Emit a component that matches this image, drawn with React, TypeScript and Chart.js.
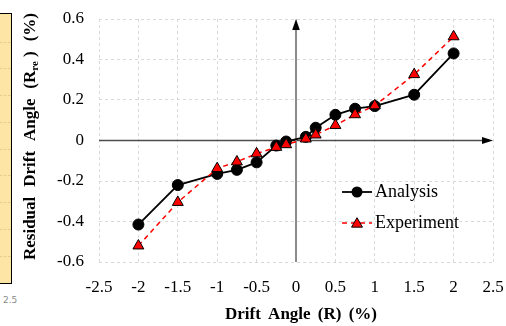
import React, { useEffect, useRef } from "react";
import { Chart, registerables } from "chart.js";

Chart.register(...registerables);

// ---- data ----
const driftAngles = [-2, -1.5, -1, -0.75, -0.5, -0.25, -0.125, 0.125, 0.25, 0.5, 0.75, 1, 1.5, 2];
const analysisValues = [-0.415, -0.22, -0.165, -0.145, -0.108, -0.025, -0.005, 0.018, 0.063, 0.127, 0.157, 0.17, 0.226, 0.43];
const experimentValues = [-0.52, -0.305, -0.138, -0.105, -0.065, -0.033, -0.02, 0.008, 0.028, 0.075, 0.128, 0.172, 0.326, 0.513];

const xTickValues = [-2.5, -2, -1.5, -1, -0.5, 0, 0.5, 1, 1.5, 2, 2.5];
const xTickLabels = ["-2.5", "-2", "-1.5", "-1", "-0.5", "0", "0.5", "1", "1.5", "2", "2.5"];
const yTickValues = [-0.6, -0.4, -0.2, 0, 0.2, 0.4, 0.6];
const yTickLabels = ["-0.6", "-0.4", "-0.2", "0", "0.2", "0.4", "0.6"];

const seriesNames = ["Analysis", "Experiment"];
const xTitle = ["Drift", "Angle", "(R)", "(%)"];

const SERIF = '"Liberation Serif", "Times New Roman", serif';

type Run = { text: string; sub?: boolean };

function drawWords(ctx: CanvasRenderingContext2D, words: Run[][], startX: number, y: number, total: number) {
  const main = `bold 17px ${SERIF}`;
  const subF = `bold 11px ${SERIF}`;
  const widths = words.map((w) =>
    w.reduce((acc, r) => {
      ctx.font = r.sub ? subF : main;
      return acc + ctx.measureText(r.text).width;
    }, 0)
  );
  const natural = widths.reduce((a, b) => a + b, 0);
  const gap = words.length > 1 ? (total - natural) / (words.length - 1) : 0;
  let x = startX;
  ctx.textBaseline = "middle";
  ctx.textAlign = "left";
  ctx.fillStyle = "#000";
  words.forEach((w) => {
    for (const r of w) {
      ctx.font = r.sub ? subF : main;
      ctx.fillText(r.text, x, r.sub ? y + 4 : y);
      x += ctx.measureText(r.text).width;
    }
    x += gap;
  });
}

function drawCircle(ctx: CanvasRenderingContext2D, x: number, y: number, r: number) {
  ctx.beginPath();
  ctx.arc(x, y, r, 0, Math.PI * 2);
  ctx.fillStyle = "#000";
  ctx.fill();
}

function drawTriangle(ctx: CanvasRenderingContext2D, x: number, y: number, r: number) {
  ctx.beginPath();
  let rad = 0;
  for (let i = 0; i < 3; i++) {
    const px = x + Math.sin(rad) * r;
    const py = y - Math.cos(rad) * r;
    if (i === 0) ctx.moveTo(px, py);
    else ctx.lineTo(px, py);
    rad += (Math.PI * 2) / 3;
  }
  ctx.closePath();
  ctx.fillStyle = "#FF0000";
  ctx.fill();
  ctx.lineWidth = 1;
  ctx.strokeStyle = "#000";
  ctx.setLineDash([]);
  ctx.stroke();
}

const axesPlugin = {
  id: "customAxes",
  beforeDatasetsDraw(chart: any) {
    const { ctx, chartArea, scales } = chart;
    const xs = scales.x;
    const ys = scales.y;
    const y0 = ys.getPixelForValue(0);
    const x0 = xs.getPixelForValue(0);
    ctx.save();
    ctx.setLineDash([]);
    // x axis
    ctx.strokeStyle = "#4d4d4d";
    ctx.lineWidth = 1.5;
    ctx.beginPath();
    ctx.moveTo(chartArea.left, y0);
    ctx.lineTo(chartArea.right - 8, y0);
    ctx.stroke();
    ctx.fillStyle = "#000";
    ctx.beginPath();
    ctx.moveTo(chartArea.right, y0);
    ctx.lineTo(chartArea.right - 11, y0 - 3.5);
    ctx.lineTo(chartArea.right - 11, y0 + 3.5);
    ctx.closePath();
    ctx.fill();
    // y axis
    ctx.strokeStyle = "#8c8c8c";
    ctx.lineWidth = 2;
    ctx.beginPath();
    ctx.moveTo(x0, chartArea.bottom);
    ctx.lineTo(x0, chartArea.top + 8);
    ctx.stroke();
    ctx.fillStyle = "#000";
    ctx.beginPath();
    ctx.moveTo(x0, chartArea.top);
    ctx.lineTo(x0 - 3.8, chartArea.top + 11);
    ctx.lineTo(x0 + 3.8, chartArea.top + 11);
    ctx.closePath();
    ctx.fill();
    ctx.restore();
  },
  afterDraw(chart: any) {
    const { ctx, chartArea } = chart;
    ctx.save();
    // x title
    drawWords(
      ctx,
      xTitle.map((t) => [{ text: t }]),
      225,
      315,
      152
    );
    // y title (rotated)
    ctx.save();
    ctx.translate(31, 260);
    ctx.rotate(-Math.PI / 2);
    drawWords(
      ctx,
      [
        [{ text: "Residual" }],
        [{ text: "Drift" }],
        [{ text: "Angle" }],
        [{ text: "(R" }, { text: "re", sub: true }, { text: " )" }],
        [{ text: "(%)" }],
      ],
      0,
      0,
      247
    );
    ctx.restore();

    // legend
    const lx0 = chartArea.right - 151;
    const lx1 = lx0 + 30;
    const mx = (lx0 + lx1) / 2;
    const ly = [192, 223];
    ctx.setLineDash([]);
    ctx.strokeStyle = "#000";
    ctx.lineWidth = 1.8;
    ctx.beginPath();
    ctx.moveTo(lx0, ly[0]);
    ctx.lineTo(lx1, ly[0]);
    ctx.stroke();
    drawCircle(ctx, mx, ly[0], 5.5);

    ctx.strokeStyle = "#FF0000";
    ctx.lineWidth = 1.5;
    ctx.setLineDash([5, 4]);
    ctx.beginPath();
    ctx.moveTo(lx0, ly[1]);
    ctx.lineTo(lx1, ly[1]);
    ctx.stroke();
    ctx.setLineDash([]);
    drawTriangle(ctx, mx, ly[1] + 1, 6.3);

    ctx.font = `18px ${SERIF}`;
    ctx.fillStyle = "#000";
    ctx.textAlign = "left";
    ctx.textBaseline = "middle";
    ctx.fillText(seriesNames[0], lx1 + 3, ly[0]);
    ctx.fillText(seriesNames[1], lx1 + 3, ly[1]);
    ctx.restore();
  },
};

function ChartView() {
  const ref = useRef<HTMLCanvasElement | null>(null);
  useEffect(() => {
    if (!ref.current) return;
    const tickFont = { family: SERIF, size: 17 };
    const chart = new Chart(ref.current, {
      type: "line",
      data: {
        datasets: [
          {
            label: seriesNames[0],
            data: driftAngles.map((x, i) => ({ x, y: analysisValues[i] })),
            borderColor: "#000",
            backgroundColor: "#000",
            borderWidth: 1.8,
            pointStyle: "circle",
            pointRadius: 5.5,
            pointBackgroundColor: "#000",
            pointBorderColor: "#000",
            pointBorderWidth: 1,
            tension: 0,
            order: 1,
          },
          {
            label: seriesNames[1],
            data: driftAngles.map((x, i) => ({ x, y: experimentValues[i] })),
            borderColor: "#FF0000",
            backgroundColor: "#FF0000",
            borderWidth: 1.5,
            borderDash: [5, 4],
            pointStyle: "triangle",
            pointRadius: 6.3,
            pointBackgroundColor: "#FF0000",
            pointBorderColor: "#000",
            pointBorderWidth: 1,
            tension: 0,
            order: 0,
          },
        ],
      },
      options: {
        animation: false,
        responsive: false,
        devicePixelRatio: 1,
        layout: { padding: { top: 19, right: 13, left: 0, bottom: 0 } },
        plugins: {
          legend: { display: false },
          tooltip: { enabled: false },
        },
        scales: {
          x: {
            type: "linear",
            min: -2.5,
            max: 2.5,
            afterBuildTicks: (s: any) => {
              s.ticks = xTickValues.map((v) => ({ value: v }));
            },
            afterFit: (s: any) => {
              s.height = 64;
              s.paddingLeft = 0;
              s.paddingRight = 0;
            },
            ticks: {
              autoSkip: false,
              maxRotation: 0,
              padding: 15,
              color: "#000",
              font: tickFont,
              callback: (_v: any, i: number) => xTickLabels[i],
            },
            grid: { color: "#d9d9d9", lineWidth: 1, drawTicks: false },
            border: { display: false, dash: [3, 3] },
          },
          y: {
            type: "linear",
            min: -0.6,
            max: 0.6,
            afterBuildTicks: (s: any) => {
              s.ticks = yTickValues.map((v) => ({ value: v }));
            },
            afterFit: (s: any) => {
              s.width = 99;
              s.paddingTop = 0;
              s.paddingBottom = 0;
            },
            ticks: {
              autoSkip: false,
              padding: 15,
              color: "#000",
              font: tickFont,
              callback: (_v: any, i: number) => yTickLabels[i],
            },
            grid: { color: "#d9d9d9", lineWidth: 1, drawTicks: false },
            border: { display: false, dash: [3, 3] },
          },
        },
      } as any,
      plugins: [axesPlugin],
    });
    return () => chart.destroy();
  }, []);
  return <canvas ref={ref} width={506} height={326} style={{ position: "absolute", left: 0, top: 0 }} />;
}

const stripDashes = [42, 68, 95, 122, 149, 175, 202, 229, 256];

export default function App() {
  return (
    <div style={{ position: "absolute", left: 0, top: 0, width: 506, height: 326, background: "#fff", overflow: "hidden" }}>
      <div
        style={{
          position: "absolute",
          left: -2,
          top: 13,
          width: 12,
          height: 269,
          background: "#FCE5A5",
          border: "1px solid #000",
        }}
      >
        {stripDashes.map((y) => (
          <div
            key={y}
            style={{ position: "absolute", left: 0, top: y - 14, width: 12, borderTop: "1px dashed #E6CF8E" }}
          />
        ))}
      </div>
      <div
        style={{
          position: "absolute",
          left: 3,
          top: 295,
          width: 14,
          overflow: "hidden",
          whiteSpace: "nowrap",
          font: '9px "DejaVu Sans", sans-serif',
          color: "#8a8a8a",
        }}
      >
        2.5
      </div>
      <ChartView />
    </div>
  );
}
